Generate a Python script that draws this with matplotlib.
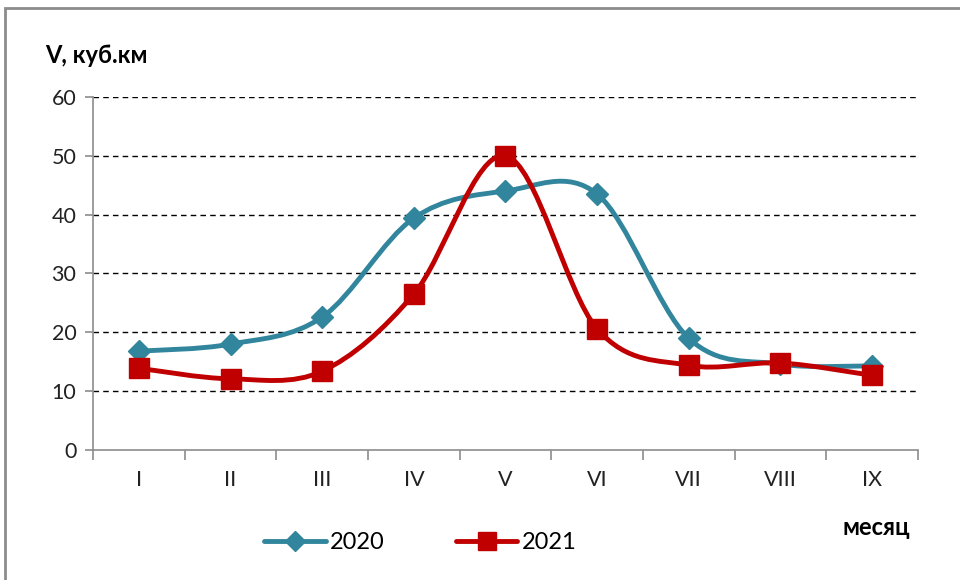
import matplotlib.pyplot as plt
import numpy as np
from matplotlib.path import Path
from matplotlib.patches import PathPatch, Rectangle
from matplotlib.lines import Line2D

months = ["I", "II", "III", "IV", "V", "VI", "VII", "VIII", "IX"]
v2020 = [16.8, 18.0, 22.6, 39.4, 44.0, 43.5, 19.0, 14.6, 14.3]
v2021 = [13.9, 12.1, 13.4, 26.5, 50.0, 20.6, 14.4, 14.8, 12.7]

plt.rcParams['font.family'] = ['Lato', 'DejaVu Sans']


def smooth_path(x, y):
    # Excel-style smoothed line: cubic Bezier through points, Catmull-Rom tangents
    pts = np.column_stack([x, y]).astype(float)
    n = len(pts)
    verts = [pts[0]]
    codes = [Path.MOVETO]
    for i in range(n - 1):
        p0 = pts[i - 1] if i > 0 else pts[i]
        p1 = pts[i]
        p2 = pts[i + 1]
        p3 = pts[i + 2] if i + 2 < n else pts[i + 1]
        c1 = p1 + (p2 - p0) / 6.0
        c2 = p2 - (p3 - p1) / 6.0
        verts += [c1, c2, p2]
        codes += [Path.CURVE4] * 3
    return Path(verts, codes)


fig = plt.figure(figsize=(9.6, 5.8), dpi=100)
ax = fig.add_axes([0.097, 0.224, 0.859, 0.609])

x = np.arange(len(months))
series = [(v2020, "#31859C", "D", 11.5, "2020"), (v2021, "#C00000", "s", 14, "2021")]
handles = []
for vals, col, mk, ms, lab in series:
    ax.add_patch(PathPatch(smooth_path(x, vals), facecolor="none", edgecolor=col,
                           lw=3.5, capstyle="round", joinstyle="round", zorder=3))
    ax.plot(x, vals, linestyle="none", marker=mk, markersize=ms, color=col, zorder=4)
    handles.append(Line2D([0], [0], color=col, lw=3.5, marker=mk, markersize=ms - 1,
                          solid_capstyle="round", label=lab))

ax.set_xlim(-0.5, len(months) - 0.5)
ax.set_ylim(0, 60)
ax.set_yticks(range(0, 61, 10))
ax.set_xticks(x)
ax.set_xticklabels(months)
ax.set_xticks(np.arange(-0.5, len(months), 1), minor=True)
ax.tick_params(axis="x", which="major", length=0, pad=14, labelsize=15.5, colors="#222222")
ax.tick_params(axis="x", which="minor", length=7, color="#8c8c8c", width=1.2)
ax.tick_params(axis="y", length=6, color="#8c8c8c", width=1.2, labelsize=15.5, pad=6,
               colors="#222222")
ax.tick_params(axis="y", color="#8c8c8c")

for s in ["top", "right"]:
    ax.spines[s].set_visible(False)
for s in ["left", "bottom"]:
    ax.spines[s].set_color("#8c8c8c")
    ax.spines[s].set_linewidth(1.2)

for yv in range(10, 61, 10):
    ax.axhline(yv, color="black", lw=1, ls=(0, (4, 3)), zorder=1)

fig.text(0.047, 0.905, "V, куб.км", fontsize=17, fontweight="bold", ha="left", va="center")
fig.text(0.948, 0.09, "месяц", fontsize=17, fontweight="bold", ha="right", va="center")

fig.legend(handles=handles, loc="center", bbox_to_anchor=(0.438, 0.065), ncol=2,
           frameon=False, fontsize=17, handlelength=2.6, columnspacing=3.0,
           handletextpad=0.2)

fig.patches.append(Rectangle((0.005, -0.05), 1.2, 1.036, transform=fig.transFigure,
                             fill=False, edgecolor="#8c8c8c", lw=2))

fig.savefig("out.png", dpi=100)
